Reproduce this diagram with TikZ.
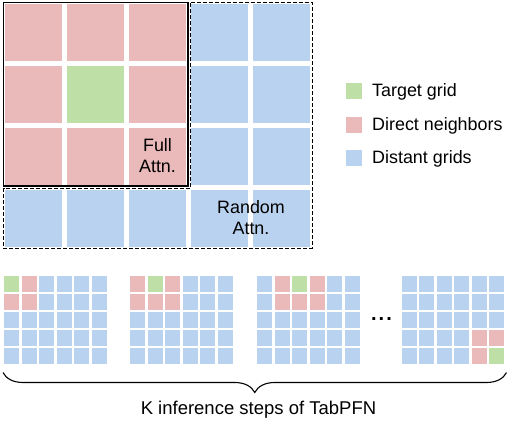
\documentclass[tikz,border=0pt]{standalone}
\usepackage{fontspec}
\setmainfont{Liberation Sans}
\usetikzlibrary{decorations.pathreplacing}
\definecolor{cgreen}{RGB}{190,224,166}
\definecolor{cred}{RGB}{234,185,185}
\definecolor{cblue}{RGB}{185,210,239}
\newcommand\mycell[4]{\fill[#4] ({#1+17.5*#2},{276+18.07*#3}) rectangle ++(15,15.7);}
\begin{document}
\begin{tikzpicture}[x=1pt,y=-1pt,
  font=\fontsize{17.9}{21}\selectfont,
  lbl/.style={inner sep=0, align=center},
  legsq/.style={inner sep=0, minimum size=16pt, fill=#1},
  legtxt/.style={inner sep=0, anchor=west}]
\useasboundingbox (0,0) rectangle (509,423);

% ---- top grid ----
\foreach \i in {0,...,4} \foreach \j in {0,...,3}
  {\fill[cblue] ({4.5+62.2*\i},{3.8+62.2*\j}) rectangle ++(57,57);}
\foreach \i in {0,1,2} \foreach \j in {0,1,2}
  {\fill[cred] ({4.5+62.2*\i},{3.8+62.2*\j}) rectangle ++(57,57);}
\fill[cgreen] ({4.5+62.2},{3.8+62.2}) rectangle ++(57,57);

\draw[line width=1.1pt] (3.5,2.5) rectangle (188,186);
\draw[line width=1pt, dash pattern=on 4pt off 2pt]
  (190.5,2.5) -- (312,2.5) -- (312,248) -- (3.5,248) -- (3.5,188) -- (190.5,188) -- cycle;

\node[lbl] (full) at (157.5,155.5) {Full\\Attn.};
\node[lbl] (random) at (251,217.5) {Random\\Attn.};

% ---- legend ----
\node[legsq=cgreen] (lg1) at (354,91) {};
\node[legsq=cred] (lg2) at (354,125) {};
\node[legsq=cblue] (lg3) at (354,158) {};
\node[legtxt] (lt1) at (372,92) {Target grid};
\node[legtxt] (lt2) at (372,126) {Direct neighbors};
\node[legtxt] (lt3) at (372,159) {Distant grids};

% ---- small grids ----
\foreach \gx in {4,130,257.3,401.7}
  \foreach \c in {0,...,5} \foreach \r in {0,...,4}
    {\mycell{\gx}{\c}{\r}{cblue}}
% grid 1
\mycell{4}{0}{0}{cgreen}
\mycell{4}{1}{0}{cred}
\mycell{4}{0}{1}{cred}
\mycell{4}{1}{1}{cred}
% grid 2
\mycell{130}{0}{0}{cred}
\mycell{130}{1}{0}{cgreen}
\mycell{130}{2}{0}{cred}
\mycell{130}{0}{1}{cred}
\mycell{130}{1}{1}{cred}
\mycell{130}{2}{1}{cred}
% grid 3
\mycell{257.3}{1}{0}{cred}
\mycell{257.3}{2}{0}{cgreen}
\mycell{257.3}{3}{0}{cred}
\mycell{257.3}{1}{1}{cred}
\mycell{257.3}{2}{1}{cred}
\mycell{257.3}{3}{1}{cred}
% grid 4
\mycell{401.7}{4}{3}{cred}
\mycell{401.7}{5}{3}{cred}
\mycell{401.7}{4}{4}{cred}
\mycell{401.7}{5}{4}{cgreen}

\node[inner sep=0] (dots) at (381.5,319.5) {\fontsize{20}{20}\selectfont\bfseries .\kern2pt.\kern2pt.};

% ---- brace ----
\coordinate (bl) at (3,372.5);
\coordinate (br) at (506.5,372.5);
\draw[decorate, decoration={brace, amplitude=20pt, mirror}, line width=1.1pt] (bl) -- (br);
\node[font=\fontsize{18.5}{22}\selectfont] (cap) at (258.5,410) {K inference steps of TabPFN};
\end{tikzpicture}
\end{document}
